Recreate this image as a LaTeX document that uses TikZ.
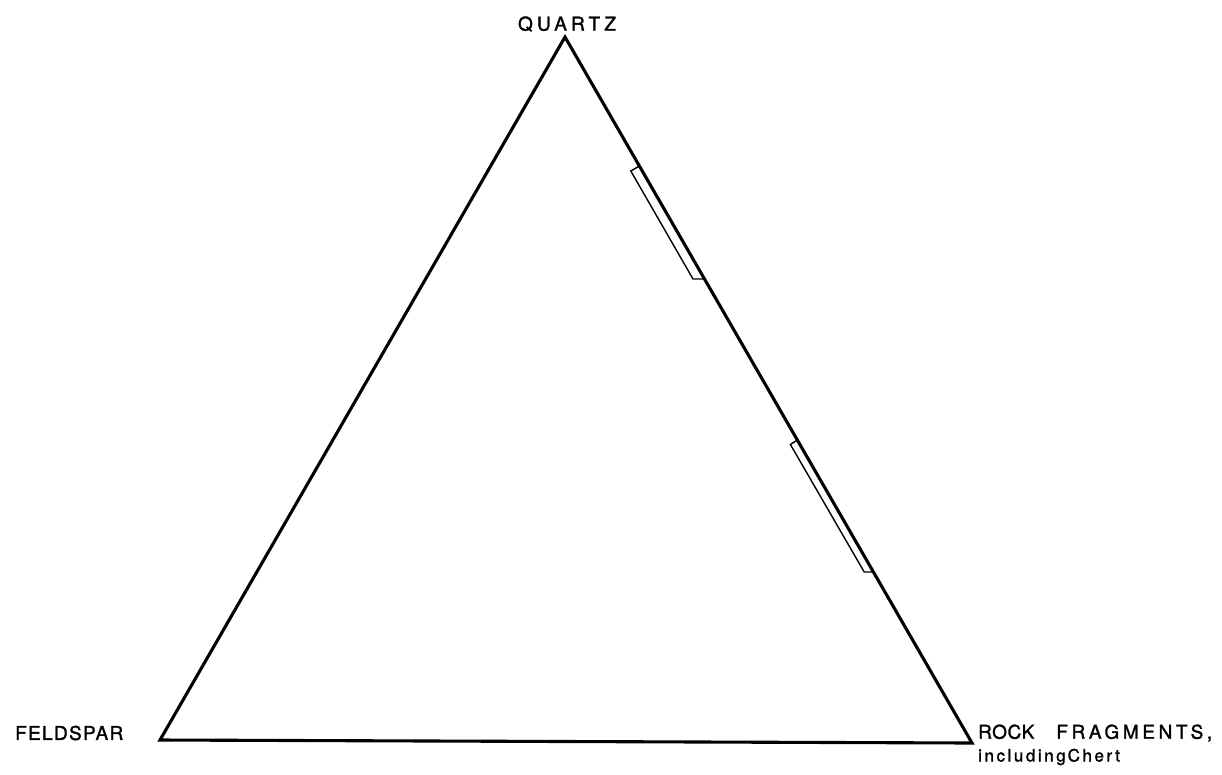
\documentclass[tikz,border=0pt]{standalone}
\usepackage{fontspec}
\setmainfont{TeX Gyre Heros}[FakeBold=1.5]
\usetikzlibrary{calc}
\tikzset{
  edgeline/.style={line width=3.1pt, line join=miter, line cap=round},
  stripbox/.style={line width=1.4pt, line join=miter},
  lbl/.style={inner sep=0pt, font=\fontsize{19}{22}\selectfont}
}
\begin{document}
\begin{tikzpicture}[x=1pt,y=-1pt]
\useasboundingbox (0,0) rectangle (1222,774);
% vertices
\coordinate (Q) at (565,37);
\coordinate (F) at (160,740);
\coordinate (R) at (972,743);
\draw[edgeline] (Q) -- (F) -- (R) -- cycle;
% strip 1
\coordinate (s1a) at (639.4,166);
\coordinate (s1b) at (630.8,171);
\coordinate (s1c) at (693.0,279);
\coordinate (s1d) at (704.5,279);
\draw[stripbox] (s1a) -- (s1b) -- (s1c) -- (s1d);
% strip 2
\coordinate (s2a) at (797.3,440);
\coordinate (s2b) at (790.4,444.5);
\coordinate (s2c) at (864.2,572);
\coordinate (s2d) at (873.4,572);
\draw[stripbox] (s2a) -- (s2b) -- (s2c) -- (s2d);
% labels
\node[lbl] (lq) at (567,24) {\addfontfeatures{LetterSpace=22}QUARTZ};
\node[lbl, anchor=west] (lf) at (15,733) {\addfontfeatures{LetterSpace=7}FELDSPAR};
\node[lbl, anchor=west] (lr) at (978,733) {\addfontfeatures{LetterSpace=3}ROCK\hspace{22pt}\addfontfeatures{LetterSpace=19}FRAGMENTS,};
\node[lbl, anchor=west, font=\fontsize{17}{20}\selectfont] (lc) at (978,757) {\addfontfeatures{LetterSpace=15}including\hspace{2pt}Chert};
\end{tikzpicture}
\end{document}
